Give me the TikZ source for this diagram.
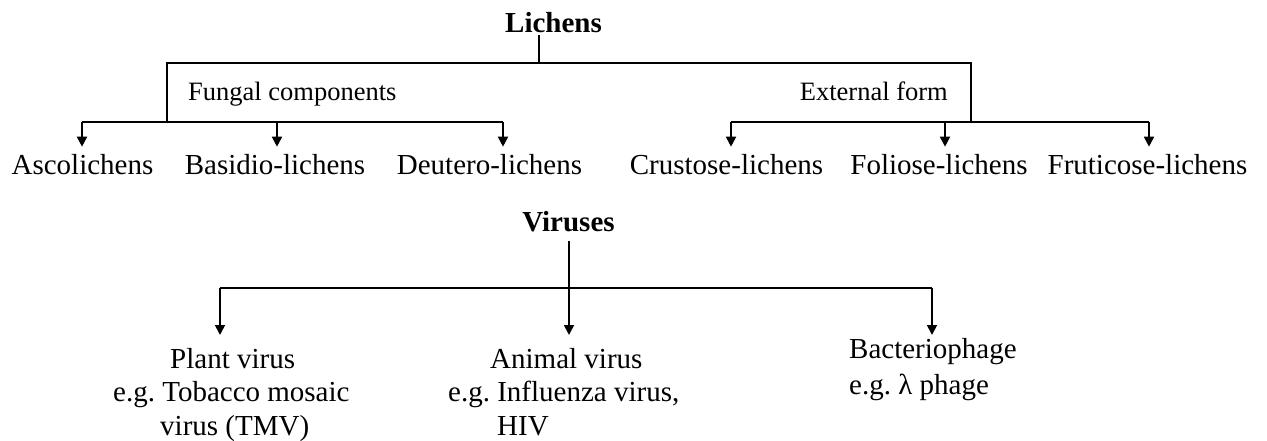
\documentclass[tikz,border=0pt]{standalone}
\usepackage{fontspec}
\setmainfont{Liberation Serif}
\usetikzlibrary{arrows.meta}
\frenchspacing
\begin{document}
\begin{tikzpicture}[x=1pt,y=-1pt,
  conn/.style={line width=1.8pt},
  arr/.style={conn,-{Triangle[length=10pt,width=10pt]}},
  lbl/.style={inner sep=0pt,font=\fontsize{29}{33.5}\selectfont},
  midlbl/.style={inner sep=0pt,font=\fontsize{26.5}{30}\selectfont},
  head/.style={inner sep=0pt,font=\fontsize{29}{33.5}\selectfont\bfseries}]
\useasboundingbox (0,0) rectangle (1267,440);

% ---------- Lichens ----------
\node[head,anchor=base] (lich) at (553.5,32) {Lichens};
\coordinate (lj) at (539,63);
\coordinate (tl) at (167,63);
\coordinate (tr) at (971,63);
\coordinate (fl) at (167,122);
\coordinate (fr) at (971,122);
\draw[conn] ([yshift=-3pt]lich.south -| lj) -- (lj);
\draw[conn] (fl) -- (tl) -- (tr) -- (fr);

\node[midlbl,anchor=base west] (fung) at (188,100) {Fungal components};
\node[midlbl,anchor=base east] (ext) at (948,100) {External form};

\node[lbl,anchor=base] (asco) at (82.5,174) {Ascolichens};
\node[lbl,anchor=base] (basi) at (275,174) {Basidio-lichens};
\node[lbl,anchor=base] (deut) at (489.5,174) {Deutero-lichens};
\node[lbl,anchor=base] (crus) at (726.5,174) {Crustose-lichens};
\node[lbl,anchor=base] (foli) at (939,174) {Foliose-lichens};
\node[lbl,anchor=base] (frut) at (1147.5,174) {Fruticose-lichens};

\coordinate (a1) at (82,122);
\coordinate (a2) at (277,122);
\coordinate (a3) at (503,122);
\coordinate (b1) at (731,122);
\coordinate (b2) at (945,122);
\coordinate (b3) at (1149,122);
\draw[conn] (a1) -- (a3);
\draw[conn] (b1) -- (b3);
\draw[arr,shorten >=7pt] (a1) -- (a1 |- asco.north);
\draw[arr,shorten >=7pt] (a2) -- (a2 |- basi.north);
\draw[arr,shorten >=7pt] (a3) -- (a3 |- deut.north);
\draw[arr,shorten >=7pt] (b1) -- (b1 |- crus.north);
\draw[arr,shorten >=7pt] (b2) -- (b2 |- foli.north);
\draw[arr,shorten >=7pt] (b3) -- (b3 |- frut.north);

% ---------- Viruses ----------
\node[head,anchor=base] (vir) at (568.5,231) {Viruses};
\node[lbl,anchor=base west,align=left] (plant) at (113,435)
  {\hspace*{57pt}Plant virus\\e.g. Tobacco mosaic\\\hspace*{47pt}virus (TMV)};
\node[lbl,anchor=base west,align=left] (anim) at (448,435)
  {\hspace*{42pt}Animal virus\\e.g. Influenza virus,\\\hspace*{49pt}HIV};
\node[lbl,anchor=base west,align=left,font=\fontsize{29}{36}\selectfont] (bact) at (849,394)
  {Bacteriophage\\e.g. λ phage};

\coordinate (pv) at (220,288);
\coordinate (vj) at (569,288);
\coordinate (bv) at (932,288);
\coordinate (tipP) at (220,335);
\coordinate (tipA) at (569,335);
\coordinate (tipB) at (932,335);
\draw[conn] (pv) -- (bv);
\draw[arr,shorten <=9pt] (vir.south -| vj) -- (tipA);
\draw[arr] (pv) -- (tipP);
\draw[arr] (bv) -- (tipB);
\end{tikzpicture}
\end{document}
